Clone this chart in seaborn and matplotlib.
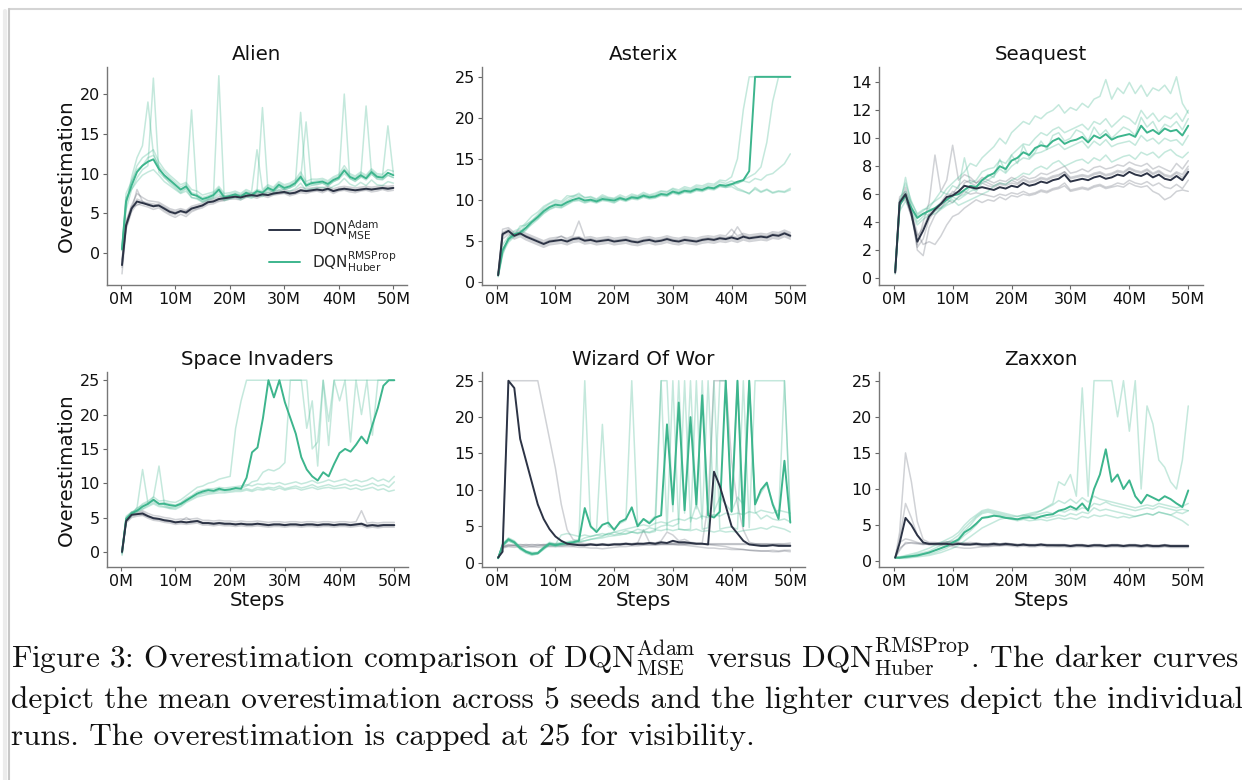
import numpy as np
import pandas as pd
import matplotlib
matplotlib.use("Agg")
import matplotlib.pyplot as plt
import seaborn as sns
from matplotlib.lines import Line2D

# ---------------- data ----------------
GAMES = ["Alien", "Asterix", "Seaquest", "Space Invaders", "Wizard Of Wor", "Zaxxon"]
STEPS_M = [0.25] + list(range(1, 51))
XTICKS = [0, 10, 20, 30, 40, 50]
XTICK_LABELS = ["0M", "10M", "20M", "30M", "40M", "50M"]
YTICKS = {
    "Alien": [0, 5, 10, 15, 20],
    "Asterix": [0, 5, 10, 15, 20, 25],
    "Seaquest": [0, 2, 4, 6, 8, 10, 12, 14],
    "Space Invaders": [0, 5, 10, 15, 20, 25],
    "Wizard Of Wor": [0, 5, 10, 15, 20, 25],
    "Zaxxon": [0, 5, 10, 15, 20, 25],
}
YLIMS = {
    "Alien": (-4.0, 23.4), "Asterix": (-0.4, 26.2), "Seaquest": (-0.5, 15.1),
    "Space Invaders": (-2.2, 26.2), "Wizard Of Wor": (-0.6, 26.2), "Zaxxon": (-0.8, 26.2),
}

# ---- Alien ----
ALIEN_HUBER_MEAN = [0.5, 6.5, 8.5, 10.2, 11.0, 11.5, 11.8, 10.6, 9.8, 9.2, 8.6, 8.0, 8.4, 7.4, 7.2, 6.8, 7.0, 7.3, 8.0, 7.0, 7.2, 7.4, 7.1, 7.6, 7.3, 7.8, 7.6, 8.2, 7.9, 8.6, 8.2, 8.4, 8.8, 9.6, 8.5, 8.8, 8.9, 9.0, 8.7, 9.2, 9.5, 10.4, 9.6, 9.3, 9.8, 9.4, 10.2, 9.6, 9.5, 10.1, 9.8]
ALIEN_HUBER_RUNS = [
    [0.3, 6.0, 9.5, 12.0, 13.5, 19.0, 12.5, 10.8, 9.6, 8.8, 8.2, 7.6, 8.1, 7.0, 6.9, 6.5, 6.8, 7.0, 22.3, 6.8, 7.0, 7.2, 6.9, 7.4, 7.1, 7.6, 7.3, 8.0, 7.7, 8.3, 8.0, 8.2, 8.5, 17.7, 8.3, 8.5, 8.6, 8.8, 8.5, 9.0, 9.3, 20.0, 9.4, 9.0, 9.6, 9.2, 9.9, 9.4, 9.3, 9.8, 9.5],
    [0.6, 7.0, 8.0, 9.5, 10.5, 11.0, 22.0, 10.2, 9.5, 9.0, 8.4, 7.8, 8.2, 18.0, 7.0, 6.6, 6.8, 7.1, 7.7, 6.8, 7.0, 7.2, 7.0, 7.5, 7.1, 7.7, 18.3, 8.0, 7.7, 8.4, 8.0, 8.2, 8.6, 9.3, 16.5, 8.6, 8.7, 8.8, 8.4, 9.0, 9.3, 10.0, 9.4, 9.1, 9.5, 18.5, 10.0, 9.3, 9.2, 9.8, 9.5],
    [0.5, 6.5, 9.0, 11.0, 12.0, 12.5, 13.0, 11.5, 10.5, 9.8, 9.2, 8.6, 8.9, 8.0, 7.8, 7.3, 7.5, 7.7, 8.4, 7.5, 7.6, 7.8, 7.5, 8.0, 7.7, 13.0, 8.0, 8.6, 8.3, 9.0, 8.6, 8.8, 9.2, 10.2, 9.0, 9.3, 9.3, 9.4, 9.1, 9.6, 9.9, 11.0, 10.0, 9.7, 10.2, 9.8, 10.6, 10.0, 9.9, 10.5, 10.3],
    [0.4, 5.5, 8.0, 9.0, 9.8, 10.2, 10.5, 9.8, 9.0, 8.5, 8.0, 7.5, 7.8, 7.0, 6.8, 6.4, 6.6, 6.9, 7.4, 6.6, 6.8, 7.0, 6.7, 7.1, 6.9, 7.3, 7.1, 7.7, 7.4, 8.0, 7.6, 7.8, 8.1, 8.8, 7.9, 8.1, 8.2, 8.3, 8.0, 8.4, 8.7, 9.4, 8.7, 8.4, 8.9, 8.5, 9.2, 8.6, 8.5, 9.0, 8.8],
    [0.7, 7.5, 9.0, 10.5, 11.0, 12.0, 12.3, 11.0, 10.2, 9.5, 8.9, 8.3, 8.7, 7.6, 7.4, 7.0, 7.2, 7.5, 8.2, 7.2, 7.4, 7.6, 7.3, 7.8, 7.5, 8.0, 7.8, 8.4, 8.1, 8.8, 8.4, 8.6, 9.0, 9.8, 8.7, 9.0, 9.1, 9.2, 8.9, 9.4, 9.7, 10.6, 9.8, 9.5, 10.0, 9.6, 10.4, 9.8, 9.7, 16.0, 10.0],
]
ALIEN_ADAM_MEAN = [-1.5, 3.5, 5.6, 6.5, 6.3, 6.1, 5.9, 6.0, 5.6, 5.2, 5.0, 5.3, 5.1, 5.6, 5.8, 6.0, 6.4, 6.5, 6.8, 6.9, 7.0, 7.1, 7.0, 7.2, 7.3, 7.2, 7.4, 7.3, 7.5, 7.6, 7.7, 7.5, 7.6, 7.9, 7.8, 7.9, 8.0, 7.9, 8.1, 7.8, 8.0, 8.1, 8.0, 7.9, 8.0, 8.1, 8.0, 8.1, 8.2, 8.1, 8.2]
ALIEN_ADAM_RUNS = [
    [-2.6, 3.0, 5.2, 6.2, 6.0, 5.8, 5.5, 5.7, 5.2, 4.8, 4.5, 4.9, 4.6, 5.2, 5.5, 5.7, 6.1, 6.2, 6.5, 6.6, 6.8, 6.8, 6.7, 7.0, 7.1, 6.9, 7.2, 7.0, 7.3, 7.4, 7.5, 7.2, 7.4, 7.6, 7.5, 7.7, 7.8, 7.6, 7.9, 7.5, 7.8, 7.9, 7.7, 7.6, 7.8, 7.9, 7.7, 7.8, 8.0, 7.8, 7.9],
    [-1.0, 4.0, 6.0, 7.5, 7.0, 6.6, 6.5, 6.4, 6.0, 5.6, 5.4, 5.6, 5.4, 5.9, 6.1, 6.3, 6.7, 6.8, 7.1, 7.2, 7.2, 7.4, 7.3, 7.5, 7.6, 7.5, 7.7, 7.6, 7.8, 7.9, 8.0, 7.8, 7.9, 8.3, 8.1, 8.2, 8.3, 8.2, 8.4, 8.1, 8.3, 8.4, 8.3, 8.2, 8.3, 8.4, 8.3, 8.4, 8.5, 8.4, 8.5],
    [-1.8, 3.2, 5.4, 8.0, 6.5, 6.0, 5.8, 5.9, 5.4, 5.0, 4.8, 5.2, 4.9, 5.4, 5.6, 5.9, 6.3, 6.4, 6.6, 6.7, 6.9, 7.0, 6.9, 7.1, 7.2, 7.1, 7.3, 7.2, 7.4, 7.5, 7.6, 7.4, 7.5, 7.8, 7.7, 7.8, 7.9, 7.8, 8.0, 7.7, 7.9, 8.0, 7.9, 7.8, 7.9, 8.0, 7.9, 8.0, 8.1, 8.0, 8.1],
    [-0.8, 3.8, 5.9, 6.0, 6.4, 6.2, 6.0, 6.2, 5.8, 5.4, 5.2, 5.4, 5.3, 5.7, 5.9, 6.1, 6.5, 6.6, 6.9, 7.0, 7.1, 7.2, 7.1, 7.3, 7.4, 7.3, 7.5, 7.4, 7.6, 7.7, 7.8, 7.6, 7.7, 8.0, 7.9, 8.0, 8.1, 8.0, 8.2, 7.9, 8.1, 8.2, 8.1, 8.0, 8.1, 8.2, 8.1, 8.2, 8.3, 8.2, 8.3],
    [-1.4, 3.5, 5.6, 6.8, 6.5, 6.3, 6.2, 6.0, 5.7, 5.3, 5.1, 5.2, 5.2, 5.6, 5.8, 6.0, 6.4, 6.5, 6.8, 6.9, 7.0, 7.1, 7.0, 7.2, 7.3, 7.2, 7.4, 7.3, 7.5, 7.6, 7.6, 7.5, 7.6, 7.9, 7.8, 7.9, 8.0, 7.9, 8.1, 7.8, 8.0, 8.1, 8.0, 7.9, 8.0, 8.1, 8.0, 8.1, 8.2, 8.1, 8.2],
]

# ---- Asterix ----
ASTERIX_HUBER_MEAN = [0.8, 3.8, 5.2, 5.8, 6.0, 6.6, 7.3, 7.9, 8.6, 9.1, 9.4, 9.3, 9.7, 10.0, 10.2, 9.9, 10.0, 9.8, 10.1, 10.0, 9.9, 10.2, 10.0, 10.3, 10.2, 10.5, 10.3, 10.4, 10.7, 10.6, 11.0, 10.8, 11.1, 11.0, 11.3, 11.2, 11.5, 11.4, 11.8, 11.7, 11.9, 12.2, 12.4, 13.5, 25.0, 25.0, 25.0, 25.0, 25.0, 25.0, 25.0]
ASTERIX_HUBER_RUNS = [
    [0.9, 4.5, 5.5, 6.2, 6.5, 7.2, 8.0, 8.5, 9.2, 9.6, 10.0, 9.8, 10.5, 10.4, 10.8, 10.2, 10.4, 10.1, 10.6, 10.3, 10.2, 10.6, 10.3, 10.7, 10.5, 10.9, 10.6, 10.8, 11.1, 11.0, 11.4, 11.2, 11.6, 11.4, 11.8, 11.7, 12.0, 11.9, 12.4, 12.3, 12.8, 15.0, 21.0, 25.0, 25.0, 25.0, 25.0, 25.0, 25.0, 25.0, 25.0],
    [0.7, 3.5, 4.8, 5.5, 5.8, 6.4, 7.0, 7.6, 8.3, 8.8, 9.1, 9.0, 9.4, 9.8, 9.9, 9.6, 9.8, 9.6, 9.9, 9.8, 9.6, 10.0, 9.8, 10.1, 10.0, 10.3, 10.1, 10.2, 10.5, 10.4, 10.8, 10.6, 10.9, 10.8, 11.1, 11.0, 11.3, 11.2, 11.6, 11.5, 11.8, 12.0, 12.4, 12.8, 13.2, 14.0, 17.0, 22.0, 25.0, 25.0, 25.0],
    [0.8, 4.0, 5.0, 5.6, 6.8, 6.9, 7.5, 8.2, 9.0, 9.5, 9.8, 9.6, 10.2, 10.5, 10.6, 10.3, 10.3, 10.0, 10.4, 10.2, 10.1, 10.4, 10.1, 10.5, 10.4, 10.7, 10.5, 10.6, 11.0, 10.9, 11.3, 11.0, 11.4, 11.2, 11.6, 11.5, 11.8, 11.7, 12.2, 12.0, 12.3, 12.0, 12.3, 12.1, 12.6, 12.4, 13.0, 13.2, 13.8, 14.4, 15.6],
    [0.6, 3.2, 5.4, 5.9, 5.7, 6.3, 7.2, 7.7, 8.4, 8.9, 9.2, 9.1, 9.5, 9.9, 10.0, 9.7, 9.9, 9.7, 10.0, 9.9, 9.7, 10.1, 9.9, 10.2, 10.1, 10.4, 10.2, 10.3, 10.6, 10.5, 10.9, 10.7, 11.0, 10.9, 11.2, 11.1, 11.4, 11.3, 11.7, 11.5, 11.6, 11.2, 11.0, 10.8, 11.3, 10.9, 11.2, 10.8, 11.0, 10.9, 11.2],
    [0.9, 3.9, 5.1, 5.7, 6.1, 7.0, 7.4, 8.0, 8.8, 9.2, 9.6, 9.4, 9.9, 10.3, 10.4, 10.0, 10.1, 9.9, 10.3, 10.1, 10.0, 10.3, 10.0, 10.4, 10.3, 10.6, 10.4, 10.5, 10.8, 10.7, 11.1, 10.9, 11.2, 11.1, 11.4, 11.3, 11.6, 11.5, 11.9, 11.8, 12.0, 11.4, 11.1, 10.7, 11.5, 11.0, 11.3, 10.9, 11.1, 11.0, 11.4],
]
ASTERIX_ADAM_MEAN = [0.8, 5.8, 6.2, 5.6, 5.9, 5.5, 5.2, 4.9, 4.6, 4.9, 5.0, 5.1, 4.9, 5.2, 5.3, 5.0, 5.1, 4.9, 5.0, 5.1, 4.9, 5.0, 5.1, 4.9, 4.8, 5.0, 5.1, 4.9, 5.0, 5.2, 5.0, 4.9, 5.1, 5.0, 4.9, 5.1, 5.2, 5.1, 5.3, 5.2, 5.4, 5.2, 5.5, 5.3, 5.4, 5.5, 5.4, 5.7, 5.6, 5.9, 5.6]
ASTERIX_ADAM_RUNS = [
    [0.9, 6.4, 6.6, 6.0, 6.3, 5.9, 5.6, 5.3, 5.0, 5.3, 5.4, 5.5, 5.3, 5.6, 7.4, 5.4, 5.5, 5.3, 5.4, 5.5, 5.3, 5.4, 5.5, 5.3, 5.2, 5.4, 5.5, 5.3, 5.4, 5.6, 5.4, 5.3, 5.5, 5.4, 5.3, 5.5, 5.6, 5.5, 5.7, 5.6, 6.4, 5.6, 5.9, 5.7, 5.8, 5.9, 5.8, 6.1, 6.0, 6.3, 6.0],
    [0.7, 5.2, 5.8, 5.2, 5.5, 5.1, 4.8, 4.5, 4.2, 4.5, 4.6, 4.7, 4.5, 4.8, 4.9, 4.6, 4.7, 4.5, 4.6, 4.7, 4.5, 4.6, 4.7, 4.5, 4.4, 4.6, 4.7, 4.5, 4.6, 4.8, 4.6, 4.5, 4.7, 4.6, 4.5, 4.7, 4.8, 4.7, 4.9, 4.8, 5.0, 4.8, 5.1, 4.9, 5.0, 5.1, 5.0, 5.3, 5.2, 5.5, 5.2],
    [0.8, 6.0, 6.4, 5.8, 6.1, 5.7, 5.4, 5.1, 4.8, 5.1, 5.2, 5.6, 5.1, 5.4, 5.5, 5.2, 5.3, 5.1, 5.2, 5.3, 5.1, 5.2, 5.3, 5.1, 5.0, 5.2, 5.3, 5.1, 5.2, 5.4, 5.2, 5.1, 5.3, 5.2, 5.1, 5.3, 5.4, 5.3, 5.5, 5.4, 5.6, 5.4, 5.7, 5.5, 5.6, 5.7, 5.6, 5.9, 5.8, 6.1, 5.8],
    [0.8, 5.6, 6.0, 5.4, 5.7, 5.3, 5.0, 4.7, 4.4, 4.7, 4.8, 4.9, 4.7, 5.0, 5.1, 4.8, 4.9, 4.7, 4.8, 4.9, 4.7, 4.8, 4.9, 4.7, 4.6, 4.8, 4.9, 4.7, 4.8, 5.0, 4.8, 4.7, 4.9, 4.8, 4.7, 4.9, 5.0, 4.9, 5.1, 5.0, 5.2, 5.0, 5.3, 5.1, 5.2, 5.3, 5.2, 5.5, 5.4, 5.7, 5.4],
    [0.9, 5.9, 6.2, 5.7, 5.9, 5.6, 5.3, 5.0, 4.7, 5.0, 5.1, 5.2, 5.0, 5.3, 5.4, 5.1, 5.2, 5.0, 5.1, 5.2, 5.0, 5.1, 5.2, 5.0, 4.9, 5.1, 5.2, 5.0, 5.1, 5.3, 5.1, 5.0, 5.2, 5.1, 5.0, 5.2, 5.3, 5.2, 5.4, 5.3, 5.5, 6.7, 5.6, 5.4, 5.5, 5.6, 5.5, 5.8, 5.7, 6.0, 5.7],
]

# ---- Seaquest ----
SEAQUEST_HUBER_MEAN = [0.5, 5.2, 5.9, 5.0, 4.3, 4.6, 4.8, 5.0, 5.3, 5.6, 5.9, 6.0, 6.3, 6.6, 6.5, 7.0, 7.3, 7.5, 8.0, 7.8, 8.4, 8.6, 9.0, 8.8, 9.3, 9.5, 9.4, 9.8, 10.0, 9.6, 9.8, 9.9, 10.1, 9.7, 10.2, 10.0, 10.3, 9.9, 10.1, 10.2, 10.3, 10.1, 10.9, 10.4, 10.6, 10.3, 10.7, 10.5, 10.6, 10.2, 10.9]
SEAQUEST_HUBER_RUNS = [
    [0.3, 5.5, 6.8, 5.5, 4.5, 4.8, 5.2, 5.5, 5.8, 6.4, 6.8, 7.2, 7.6, 8.2, 8.0, 8.6, 9.0, 9.4, 10.0, 9.6, 10.4, 10.8, 11.2, 11.0, 11.6, 11.4, 11.8, 12.0, 12.4, 11.8, 12.2, 12.0, 12.5, 12.2, 12.8, 13.0, 14.2, 12.8, 13.6, 13.2, 14.0, 13.2, 13.8, 13.0, 13.6, 13.4, 13.8, 13.2, 14.4, 12.5, 11.8],
    [0.6, 5.0, 7.2, 5.2, 4.0, 4.4, 4.9, 5.0, 5.0, 5.3, 5.8, 5.6, 5.9, 6.2, 6.4, 7.0, 7.4, 7.2, 8.5, 7.6, 8.8, 8.2, 9.5, 8.6, 9.0, 9.8, 9.2, 10.2, 10.4, 9.8, 10.0, 10.6, 10.4, 9.8, 10.8, 10.2, 10.6, 10.0, 10.4, 10.8, 10.6, 10.2, 11.5, 10.8, 11.2, 10.4, 11.0, 10.8, 11.2, 10.6, 11.4],
    [0.4, 4.8, 5.5, 4.8, 3.8, 4.2, 4.5, 4.6, 4.9, 5.2, 5.4, 5.8, 6.0, 6.5, 6.2, 6.8, 7.0, 7.3, 7.8, 7.5, 8.0, 8.3, 8.6, 8.5, 8.9, 9.0, 9.2, 9.4, 9.6, 9.2, 9.4, 9.6, 9.8, 9.3, 9.8, 9.5, 9.9, 9.4, 9.6, 9.7, 9.8, 9.5, 10.2, 9.8, 10.0, 9.6, 10.0, 9.8, 9.9, 9.5, 10.2],
    [0.5, 5.3, 5.8, 5.0, 4.4, 4.6, 4.5, 4.8, 5.0, 5.4, 5.6, 5.2, 5.4, 5.6, 5.8, 6.0, 6.2, 6.6, 6.8, 6.7, 7.0, 7.2, 7.5, 7.4, 7.8, 8.0, 7.8, 8.2, 8.4, 8.0, 8.2, 8.4, 8.5, 8.2, 8.6, 8.4, 8.8, 8.3, 8.5, 8.7, 8.8, 8.5, 9.0, 8.8, 9.0, 8.6, 9.0, 9.2, 8.8, 8.6, 9.0],
    [0.6, 5.4, 6.2, 5.4, 4.6, 4.9, 5.0, 5.6, 6.2, 6.0, 6.6, 6.4, 8.6, 6.8, 7.0, 7.6, 7.8, 7.9, 8.4, 8.2, 8.8, 9.2, 9.6, 9.5, 10.0, 10.4, 10.2, 10.6, 10.8, 10.4, 10.6, 10.8, 11.0, 10.6, 11.2, 11.0, 11.4, 10.8, 11.2, 11.6, 11.4, 11.0, 12.0, 11.4, 11.8, 11.2, 11.6, 11.4, 11.8, 11.2, 12.0],
]
SEAQUEST_ADAM_MEAN = [0.4, 5.4, 6.0, 4.6, 2.6, 3.4, 4.4, 4.9, 5.3, 5.8, 5.9, 6.2, 6.6, 6.5, 6.4, 6.5, 6.4, 6.3, 6.5, 6.4, 6.6, 6.5, 6.8, 6.6, 6.7, 6.9, 6.8, 7.0, 7.1, 7.4, 6.9, 7.0, 7.1, 7.0, 7.2, 7.3, 7.1, 7.2, 7.4, 7.3, 7.6, 7.4, 7.3, 7.5, 7.2, 7.4, 7.1, 7.0, 7.3, 7.0, 7.6]
SEAQUEST_ADAM_RUNS = [
    [0.3, 5.0, 6.5, 5.0, 2.0, 1.6, 3.6, 4.5, 5.0, 5.6, 6.2, 6.0, 6.8, 7.0, 6.8, 7.2, 7.0, 6.8, 7.0, 6.9, 7.2, 7.0, 7.3, 7.1, 7.2, 7.5, 7.4, 7.6, 7.8, 8.0, 7.5, 7.6, 7.8, 7.6, 7.9, 8.0, 7.8, 7.9, 8.1, 8.0, 8.3, 8.1, 8.0, 8.2, 7.8, 8.0, 7.8, 7.6, 8.2, 7.8, 8.4],
    [0.5, 5.8, 6.2, 4.8, 3.2, 2.4, 2.6, 2.4, 3.0, 3.8, 4.4, 4.6, 5.0, 5.3, 5.6, 5.4, 5.6, 5.5, 5.8, 5.6, 5.9, 5.8, 6.0, 5.9, 6.0, 6.2, 6.1, 6.3, 6.4, 6.6, 6.2, 6.3, 6.4, 6.3, 6.5, 6.6, 6.4, 6.5, 6.6, 6.5, 6.8, 6.6, 6.5, 6.6, 6.2, 6.0, 5.6, 5.8, 6.2, 6.3, 6.2],
    [0.4, 5.2, 5.8, 4.4, 2.4, 4.0, 5.4, 8.8, 6.2, 7.0, 9.5, 7.0, 7.4, 7.2, 6.8, 7.0, 6.8, 6.6, 6.8, 6.7, 7.0, 6.8, 7.1, 6.9, 7.0, 7.2, 7.1, 7.3, 7.4, 7.6, 7.2, 7.3, 7.4, 7.3, 7.5, 7.6, 7.4, 7.5, 7.7, 7.6, 7.9, 7.7, 7.6, 7.8, 7.5, 7.7, 7.4, 7.3, 7.6, 7.4, 8.0],
    [0.5, 5.6, 6.0, 4.6, 2.2, 2.8, 4.2, 4.8, 5.2, 5.6, 5.4, 5.8, 6.2, 6.0, 6.1, 6.0, 5.9, 5.8, 6.0, 5.9, 6.1, 6.0, 6.2, 6.0, 6.1, 6.3, 6.2, 6.4, 6.5, 6.8, 6.3, 6.4, 6.5, 6.4, 6.6, 6.7, 6.5, 6.6, 6.8, 6.7, 7.0, 6.8, 6.7, 6.9, 6.6, 6.8, 6.5, 6.4, 6.7, 6.4, 7.0],
    [0.4, 5.4, 5.6, 4.4, 3.0, 3.6, 4.6, 5.0, 5.4, 6.0, 6.0, 6.6, 7.0, 6.8, 6.6, 6.8, 6.6, 6.5, 6.7, 6.6, 6.8, 6.7, 7.0, 6.8, 6.9, 7.1, 7.0, 7.2, 7.3, 7.6, 7.1, 7.2, 7.3, 7.2, 7.4, 7.5, 7.3, 7.4, 7.6, 7.5, 7.8, 7.6, 7.5, 7.7, 7.4, 7.6, 7.3, 7.2, 7.5, 7.2, 7.8],
]

# ---- Space Invaders ----
SPACE_HUBER_MEAN = [0.0, 4.8, 5.6, 6.0, 6.6, 7.0, 7.6, 7.0, 7.0, 6.8, 6.7, 7.0, 7.5, 8.0, 8.5, 8.8, 9.0, 8.9, 9.2, 9.0, 9.1, 9.3, 9.2, 10.8, 14.5, 15.2, 19.5, 25.0, 22.5, 25.0, 21.8, 19.5, 17.2, 13.8, 12.0, 11.0, 10.4, 11.6, 11.0, 12.8, 14.4, 15.0, 14.6, 15.6, 16.8, 15.8, 18.5, 21.0, 24.2, 25.0, 25.0]
SPACE_HUBER_RUNS = [
    [0.0, 5.0, 5.8, 6.2, 7.0, 7.4, 8.0, 7.4, 7.5, 7.3, 7.2, 7.6, 8.2, 8.8, 9.4, 9.6, 10.0, 10.2, 10.6, 10.8, 11.0, 18.0, 22.0, 25.0, 25.0, 25.0, 25.0, 25.0, 25.0, 25.0, 25.0, 25.0, 25.0, 25.0, 18.0, 22.0, 12.5, 25.0, 19.0, 25.0, 25.0, 25.0, 25.0, 25.0, 25.0, 25.0, 25.0, 25.0, 25.0, 25.0, 25.0],
    [-0.5, 4.5, 5.2, 6.5, 12.0, 7.0, 8.0, 12.5, 6.8, 6.5, 6.6, 7.0, 7.6, 8.0, 8.4, 8.6, 8.8, 8.8, 9.0, 9.0, 9.1, 9.2, 9.3, 9.6, 10.2, 10.4, 11.6, 12.0, 11.8, 12.2, 13.0, 25.0, 25.0, 25.0, 25.0, 15.0, 16.0, 25.0, 15.5, 25.0, 22.0, 25.0, 16.0, 25.0, 20.0, 25.0, 17.0, 25.0, 25.0, 25.0, 25.0],
    [0.2, 5.2, 5.8, 6.0, 6.3, 6.8, 7.2, 6.8, 6.6, 6.4, 6.4, 6.8, 7.4, 7.8, 8.2, 8.5, 8.6, 8.7, 8.9, 8.8, 8.9, 9.0, 9.0, 9.2, 9.0, 9.4, 9.2, 9.4, 9.3, 9.6, 9.2, 9.4, 9.6, 9.3, 9.5, 9.8, 9.4, 9.6, 9.8, 9.5, 9.7, 9.9, 9.6, 9.8, 9.5, 9.7, 10.0, 9.6, 9.8, 9.4, 10.2],
    [-0.3, 4.6, 5.6, 6.4, 6.8, 7.2, 7.4, 7.0, 7.2, 7.0, 6.8, 7.2, 7.8, 8.2, 8.8, 9.0, 9.2, 9.2, 9.4, 9.3, 9.4, 9.5, 9.6, 9.8, 9.6, 9.9, 9.8, 10.0, 9.9, 10.1, 9.8, 10.0, 10.2, 9.9, 10.1, 10.4, 10.0, 10.2, 10.5, 10.2, 10.4, 10.6, 10.2, 10.5, 10.2, 10.4, 10.8, 10.3, 10.6, 10.2, 11.0],
    [0.1, 4.9, 5.5, 5.8, 6.2, 6.6, 7.0, 6.6, 6.5, 6.3, 6.2, 6.6, 7.2, 7.6, 8.0, 8.2, 8.4, 8.5, 8.6, 8.6, 8.7, 8.8, 8.8, 9.0, 8.8, 9.1, 9.0, 9.2, 9.0, 9.3, 9.0, 9.2, 9.3, 9.0, 9.2, 9.4, 9.1, 9.3, 9.4, 9.2, 9.3, 9.4, 9.1, 9.3, 9.0, 9.2, 9.4, 9.0, 9.2, 8.8, 9.0],
]
SPACE_ADAM_MEAN = [0.0, 4.5, 5.4, 5.5, 5.6, 5.2, 4.9, 4.8, 4.6, 4.5, 4.3, 4.4, 4.3, 4.4, 4.5, 4.2, 4.2, 4.1, 4.2, 4.1, 4.1, 4.0, 4.1, 4.0, 4.0, 4.1, 4.0, 3.9, 4.0, 4.0, 3.9, 4.0, 4.0, 3.9, 4.0, 4.0, 3.9, 4.0, 4.0, 3.9, 4.0, 4.0, 3.9, 4.0, 4.1, 3.8, 3.9, 3.8, 3.9, 3.9, 3.9]
SPACE_ADAM_RUNS = [
    [0.1, 4.8, 5.8, 5.8, 6.0, 5.6, 5.3, 5.2, 5.0, 4.9, 4.7, 4.8, 4.7, 4.8, 4.9, 4.6, 4.6, 4.5, 4.6, 4.5, 4.5, 4.4, 4.5, 4.4, 4.4, 4.5, 4.4, 4.3, 4.4, 4.4, 4.3, 4.4, 4.4, 4.3, 4.4, 4.4, 4.3, 4.4, 4.4, 4.3, 4.4, 4.4, 4.3, 4.4, 6.0, 4.2, 4.3, 4.2, 4.3, 4.3, 4.3],
    [-0.2, 4.2, 5.0, 5.2, 5.3, 4.9, 4.6, 4.5, 4.3, 4.2, 4.0, 4.1, 4.0, 4.1, 4.2, 3.9, 3.9, 3.8, 3.9, 3.8, 3.8, 3.7, 3.8, 3.7, 3.7, 3.8, 3.7, 3.6, 3.7, 3.7, 3.6, 3.7, 3.7, 3.6, 3.7, 3.7, 3.6, 3.7, 3.7, 3.6, 3.7, 3.7, 3.6, 3.7, 3.8, 3.5, 3.6, 3.5, 3.6, 3.6, 3.6],
    [0.0, 4.6, 5.5, 5.6, 5.8, 5.3, 5.0, 4.9, 4.7, 4.6, 4.4, 4.5, 5.0, 4.5, 4.6, 4.3, 4.3, 4.2, 4.3, 4.2, 4.2, 4.1, 4.2, 4.1, 4.1, 4.2, 4.1, 4.0, 4.1, 4.1, 4.0, 4.1, 4.1, 4.0, 4.1, 4.1, 4.0, 4.1, 4.1, 4.0, 4.1, 4.1, 4.0, 4.1, 4.2, 3.9, 4.0, 3.9, 4.0, 4.0, 4.0],
    [-0.1, 4.4, 5.2, 5.4, 5.5, 5.1, 4.8, 4.7, 4.5, 4.4, 4.2, 4.3, 4.2, 4.3, 4.4, 4.1, 4.1, 4.0, 4.1, 4.0, 4.0, 3.9, 4.0, 3.9, 3.9, 4.0, 3.9, 3.8, 3.9, 3.9, 3.8, 3.9, 3.9, 3.8, 3.9, 3.9, 3.8, 3.9, 3.9, 3.8, 3.9, 3.9, 3.8, 3.9, 4.0, 3.7, 3.8, 3.7, 3.8, 3.8, 3.8],
    [0.1, 4.5, 5.6, 5.5, 5.4, 5.2, 4.9, 4.8, 4.6, 4.5, 4.3, 4.4, 4.3, 4.4, 4.5, 4.2, 4.2, 4.1, 4.2, 4.1, 4.1, 4.0, 4.1, 4.0, 4.0, 4.1, 4.0, 3.9, 4.0, 4.0, 3.9, 4.0, 4.0, 3.9, 4.0, 4.0, 3.9, 4.0, 4.0, 3.9, 4.0, 4.0, 3.9, 4.0, 4.1, 3.8, 3.9, 3.8, 3.9, 3.9, 3.9],
]

# ---- Wizard Of Wor ----
WIZARD_HUBER_MEAN = [0.6, 2.4, 3.2, 2.8, 2.0, 1.5, 1.2, 1.3, 2.0, 2.6, 2.4, 2.6, 2.7, 2.8, 3.0, 7.5, 5.0, 4.2, 5.2, 5.5, 4.5, 5.6, 6.0, 7.6, 5.0, 6.0, 5.4, 6.2, 6.5, 19.0, 8.0, 22.0, 7.2, 20.0, 8.0, 23.0, 6.5, 6.2, 7.0, 25.0, 7.0, 25.0, 5.0, 25.0, 8.0, 10.0, 11.0, 8.0, 6.0, 14.0, 5.5]
WIZARD_HUBER_RUNS = [
    [0.6, 2.6, 3.4, 3.0, 2.2, 1.6, 1.4, 1.4, 2.2, 2.8, 2.6, 2.8, 2.9, 3.0, 3.2, 25.0, 4.8, 4.5, 19.0, 5.0, 4.6, 5.4, 5.8, 25.0, 5.2, 6.0, 5.6, 6.4, 25.0, 25.0, 7.0, 25.0, 6.8, 25.0, 7.4, 25.0, 6.8, 6.4, 25.0, 25.0, 7.2, 25.0, 6.0, 25.0, 8.0, 9.6, 10.8, 8.2, 6.4, 25.0, 6.2],
    [0.6, 2.3, 3.0, 2.6, 1.8, 1.3, 1.0, 1.2, 1.8, 2.4, 2.2, 2.4, 2.5, 2.6, 2.8, 3.0, 3.2, 3.4, 3.6, 4.0, 4.2, 4.4, 4.6, 4.8, 5.0, 5.2, 5.0, 5.4, 5.6, 5.4, 5.8, 6.0, 5.8, 6.2, 6.0, 6.4, 6.2, 6.6, 6.4, 6.8, 6.6, 6.8, 6.6, 7.0, 6.8, 7.2, 7.0, 6.8, 7.2, 7.0, 6.8],
    [0.6, 2.5, 3.3, 2.9, 2.1, 1.6, 1.3, 1.4, 2.1, 2.7, 2.5, 3.8, 4.0, 3.8, 3.6, 3.8, 3.6, 3.8, 3.7, 4.0, 3.8, 4.0, 3.9, 4.2, 4.0, 4.2, 4.1, 4.3, 25.0, 4.4, 25.0, 4.6, 4.5, 4.6, 25.0, 4.6, 4.8, 25.0, 4.6, 4.8, 4.9, 4.6, 25.0, 4.8, 25.0, 25.0, 25.0, 25.0, 25.0, 25.0, 6.0],
    [0.6, 2.2, 3.0, 2.7, 1.9, 1.4, 1.1, 1.2, 1.9, 2.5, 2.3, 2.5, 2.6, 2.7, 2.9, 3.0, 3.2, 3.3, 3.4, 3.6, 3.7, 3.8, 4.0, 4.2, 4.1, 4.3, 4.2, 4.5, 4.4, 4.6, 4.4, 4.6, 4.5, 4.4, 4.6, 4.3, 4.4, 4.2, 4.4, 4.2, 4.3, 4.2, 4.4, 4.5, 4.6, 4.8, 4.6, 5.0, 4.8, 4.6, 4.2],
    [0.6, 2.5, 3.2, 2.8, 2.0, 1.5, 1.2, 1.3, 2.0, 2.6, 2.4, 2.6, 2.7, 2.8, 3.0, 3.4, 3.6, 3.8, 4.0, 3.8, 4.2, 4.0, 4.4, 4.2, 4.6, 4.4, 4.8, 4.6, 5.0, 5.2, 5.0, 5.4, 25.0, 5.6, 8.0, 6.0, 25.0, 7.0, 9.0, 8.0, 7.0, 9.0, 8.0, 25.0, 7.0, 6.0, 6.5, 6.0, 5.8, 6.0, 5.6],
]
WIZARD_ADAM_MEAN = [0.7, 1.5, 25.0, 24.0, 17.0, 14.0, 11.0, 8.0, 6.0, 4.6, 3.6, 3.0, 2.6, 2.5, 2.4, 2.4, 2.5, 2.4, 2.5, 2.4, 2.5, 2.5, 2.6, 2.5, 2.6, 2.6, 2.7, 2.6, 2.8, 2.7, 3.0, 2.8, 2.8, 2.7, 2.6, 2.6, 2.5, 12.5, 10.5, 7.8, 5.0, 4.0, 3.0, 2.5, 2.4, 2.3, 2.3, 2.4, 2.3, 2.3, 2.3]
WIZARD_ADAM_RUNS = [
    [0.7, 2.0, 25.0, 25.0, 25.0, 25.0, 25.0, 25.0, 21.0, 17.0, 13.0, 8.0, 4.5, 3.2, 2.8, 2.6, 2.6, 2.5, 2.6, 2.5, 2.6, 2.6, 2.7, 2.6, 2.7, 4.5, 2.8, 2.7, 3.0, 4.2, 3.8, 3.0, 3.2, 2.8, 2.7, 2.6, 2.5, 2.4, 2.3, 2.2, 2.0, 1.9, 1.8, 1.7, 1.6, 1.6, 1.6, 1.5, 1.5, 1.6, 1.5],
    [0.7, 2.2, 2.4, 2.3, 2.2, 2.3, 2.2, 2.3, 2.4, 2.3, 2.4, 2.3, 2.4, 2.3, 2.4, 2.3, 2.4, 2.4, 2.4, 2.4, 2.5, 2.4, 2.5, 2.5, 2.5, 2.5, 2.6, 2.5, 2.6, 2.6, 2.6, 2.6, 2.6, 2.6, 2.6, 2.6, 2.6, 2.6, 2.6, 2.6, 2.6, 2.6, 2.6, 2.6, 2.6, 2.6, 2.6, 2.6, 2.6, 2.6, 2.7],
    [0.7, 2.0, 2.2, 2.1, 2.2, 2.1, 2.2, 2.1, 2.2, 2.2, 2.2, 2.2, 2.2, 2.2, 2.1, 2.1, 2.0, 2.0, 1.9, 2.0, 2.1, 2.2, 2.2, 2.3, 2.3, 2.4, 2.4, 2.4, 2.5, 2.5, 2.5, 2.4, 2.4, 2.3, 2.2, 2.1, 2.0, 2.0, 1.9, 1.9, 1.8, 1.8, 1.8, 1.7, 1.7, 1.6, 1.6, 1.7, 1.6, 1.7, 1.7],
    [0.7, 2.1, 2.3, 2.4, 2.5, 2.4, 2.5, 2.4, 2.5, 2.5, 2.6, 2.5, 2.6, 2.5, 2.6, 2.5, 2.6, 2.5, 2.6, 2.5, 2.6, 2.6, 2.6, 2.6, 2.7, 2.6, 2.7, 2.6, 2.7, 2.7, 2.7, 2.7, 2.6, 2.7, 2.6, 2.7, 8.0, 25.0, 25.0, 25.0, 14.0, 8.0, 4.5, 2.8, 2.6, 2.5, 2.5, 2.4, 2.5, 2.4, 2.4],
    [0.7, 2.2, 2.5, 2.4, 2.4, 2.5, 2.4, 2.5, 2.4, 2.5, 2.5, 2.5, 2.4, 2.5, 2.5, 2.4, 2.5, 2.5, 2.4, 2.5, 2.5, 2.5, 2.5, 2.5, 2.5, 2.5, 2.5, 2.5, 2.5, 2.5, 2.5, 2.5, 2.5, 2.5, 2.5, 2.5, 2.5, 2.5, 2.5, 2.5, 2.5, 2.5, 2.5, 2.5, 2.5, 2.5, 2.5, 2.5, 2.5, 2.5, 2.5],
]

# ---- Zaxxon ----
ZAXXON_HUBER_MEAN = [0.5, 0.5, 0.6, 0.7, 0.8, 1.0, 1.2, 1.5, 1.8, 2.1, 2.6, 3.0, 4.0, 4.5, 5.2, 6.0, 6.1, 6.3, 6.2, 6.0, 5.9, 5.8, 6.0, 6.1, 5.9, 6.2, 6.4, 6.5, 7.0, 7.2, 7.6, 7.2, 8.0, 7.0, 10.0, 12.0, 15.5, 11.0, 12.0, 10.0, 11.2, 9.0, 8.0, 9.2, 8.8, 8.4, 9.0, 8.6, 8.0, 7.5, 9.8]
ZAXXON_HUBER_RUNS = [
    [0.5, 0.4, 0.5, 0.6, 0.7, 0.9, 1.0, 1.2, 1.5, 1.8, 2.4, 2.8, 3.6, 4.2, 5.0, 6.0, 6.2, 6.4, 6.2, 6.0, 6.0, 5.8, 6.2, 6.4, 6.6, 7.0, 7.5, 8.0, 11.0, 10.5, 12.0, 9.0, 24.0, 9.0, 25.0, 25.0, 25.0, 25.0, 20.0, 25.0, 18.0, 25.0, 10.0, 21.5, 19.0, 14.0, 13.0, 11.0, 10.0, 14.0, 21.5],
    [0.5, 0.6, 0.8, 1.0, 1.2, 1.5, 1.8, 2.2, 2.6, 3.0, 3.4, 4.0, 5.0, 5.8, 6.4, 7.0, 7.2, 7.0, 6.8, 6.6, 6.4, 6.2, 6.4, 6.3, 6.4, 6.6, 6.8, 6.6, 7.0, 6.8, 7.2, 7.0, 7.4, 7.2, 8.0, 7.8, 8.2, 7.8, 7.6, 7.4, 7.2, 7.0, 7.2, 7.4, 7.2, 7.6, 7.4, 7.2, 7.0, 7.2, 7.0],
    [0.5, 0.5, 0.6, 0.7, 0.8, 1.0, 1.2, 1.5, 1.8, 2.2, 2.6, 3.2, 4.2, 5.0, 6.0, 6.6, 6.8, 6.6, 6.4, 6.2, 6.0, 5.8, 5.9, 6.0, 6.1, 6.2, 6.0, 6.2, 6.4, 6.2, 6.6, 6.4, 6.8, 6.6, 7.4, 7.0, 7.2, 7.0, 6.8, 6.6, 6.4, 6.2, 6.4, 6.6, 6.4, 6.8, 6.6, 6.4, 6.0, 5.6, 5.0],
    [0.5, 0.4, 0.4, 0.5, 0.6, 0.7, 0.8, 1.0, 1.2, 1.5, 1.8, 2.2, 2.8, 3.4, 4.0, 4.6, 5.0, 5.4, 5.8, 6.0, 5.8, 5.6, 5.8, 5.6, 5.7, 5.8, 5.6, 5.8, 6.0, 5.8, 6.0, 5.8, 6.2, 6.0, 6.4, 6.2, 6.4, 6.2, 6.0, 6.2, 6.0, 6.2, 6.4, 6.6, 6.4, 6.8, 6.6, 6.4, 6.8, 6.6, 7.0],
    [0.5, 0.5, 0.7, 0.8, 1.0, 1.2, 1.4, 1.8, 2.2, 2.6, 3.0, 3.6, 4.6, 5.4, 6.2, 6.8, 7.0, 6.8, 6.6, 6.4, 6.2, 6.2, 6.4, 6.6, 6.8, 7.0, 7.4, 7.8, 8.4, 8.0, 8.6, 8.0, 8.8, 8.2, 9.0, 8.6, 8.4, 8.2, 8.0, 7.8, 7.6, 7.4, 7.6, 7.8, 7.6, 8.0, 7.8, 7.6, 7.4, 7.6, 8.0],
]
ZAXXON_ADAM_MEAN = [0.5, 2.5, 6.0, 5.0, 3.6, 2.6, 2.4, 2.4, 2.4, 2.4, 2.3, 2.4, 2.3, 2.3, 2.4, 2.3, 2.3, 2.4, 2.3, 2.4, 2.3, 2.2, 2.3, 2.2, 2.2, 2.3, 2.2, 2.2, 2.2, 2.2, 2.1, 2.2, 2.2, 2.1, 2.2, 2.2, 2.1, 2.2, 2.2, 2.1, 2.2, 2.2, 2.1, 2.2, 2.1, 2.1, 2.2, 2.1, 2.1, 2.1, 2.1]
ZAXXON_ADAM_RUNS = [
    [0.5, 4.0, 15.0, 11.0, 5.5, 3.0, 2.6, 2.6, 2.5, 2.6, 2.5, 2.5, 2.4, 2.4, 2.5, 2.4, 2.4, 2.5, 2.4, 2.5, 2.4, 2.3, 2.4, 2.3, 2.3, 2.4, 2.3, 2.3, 2.3, 2.3, 2.2, 2.3, 2.3, 2.2, 2.3, 2.3, 2.2, 2.3, 2.3, 2.2, 2.3, 2.3, 2.2, 2.3, 2.2, 2.2, 2.3, 2.2, 2.2, 2.2, 2.2],
    [0.5, 3.0, 8.0, 6.0, 3.6, 2.5, 2.3, 2.4, 2.5, 2.6, 2.8, 2.6, 2.5, 2.4, 2.5, 2.4, 2.4, 2.5, 2.4, 2.5, 2.4, 2.3, 2.4, 2.3, 2.3, 2.4, 2.3, 2.3, 2.3, 2.3, 2.2, 2.3, 2.3, 2.2, 2.3, 2.3, 2.2, 2.3, 2.3, 2.2, 2.3, 2.3, 2.2, 2.3, 2.2, 2.2, 2.3, 2.2, 2.2, 2.2, 2.2],
    [0.5, 2.6, 3.1, 2.9, 2.6, 2.4, 2.3, 2.2, 2.2, 2.1, 2.0, 1.9, 1.8, 1.8, 1.9, 2.0, 2.1, 2.2, 2.1, 2.2, 2.1, 2.0, 2.1, 2.0, 2.0, 2.1, 2.0, 2.0, 2.0, 2.0, 1.9, 2.0, 2.0, 1.9, 2.0, 2.0, 1.9, 2.0, 2.0, 1.9, 2.0, 2.0, 1.9, 2.0, 1.9, 1.9, 2.0, 1.9, 1.9, 1.9, 1.9],
    [0.5, 1.5, 2.6, 2.5, 2.4, 2.3, 2.4, 2.5, 2.6, 2.7, 2.6, 2.5, 2.4, 2.3, 2.2, 2.1, 2.0, 2.1, 2.2, 2.3, 2.4, 2.3, 2.2, 2.3, 2.2, 2.3, 2.2, 2.2, 2.1, 2.2, 2.1, 2.2, 2.1, 2.1, 2.2, 2.1, 2.1, 2.1, 2.1, 2.1, 2.1, 2.1, 2.0, 2.1, 2.0, 2.0, 2.1, 2.0, 2.0, 2.0, 2.0],
    [0.5, 1.8, 2.4, 2.6, 2.5, 2.4, 2.5, 2.4, 2.3, 2.4, 2.3, 2.4, 2.5, 2.6, 2.5, 2.4, 2.3, 2.2, 2.3, 2.2, 2.3, 2.2, 2.3, 2.2, 2.2, 2.3, 2.2, 2.2, 2.2, 2.2, 2.1, 2.2, 2.2, 2.1, 2.2, 2.2, 2.1, 2.2, 2.2, 2.1, 2.2, 2.2, 2.1, 2.2, 2.1, 2.1, 2.2, 2.1, 2.1, 2.1, 2.1],
]

PANEL_DATA = {
    "Alien": (ALIEN_ADAM_MEAN, ALIEN_ADAM_RUNS, ALIEN_HUBER_MEAN, ALIEN_HUBER_RUNS),
    "Asterix": (ASTERIX_ADAM_MEAN, ASTERIX_ADAM_RUNS, ASTERIX_HUBER_MEAN, ASTERIX_HUBER_RUNS),
    "Seaquest": (SEAQUEST_ADAM_MEAN, SEAQUEST_ADAM_RUNS, SEAQUEST_HUBER_MEAN, SEAQUEST_HUBER_RUNS),
    "Space Invaders": (SPACE_ADAM_MEAN, SPACE_ADAM_RUNS, SPACE_HUBER_MEAN, SPACE_HUBER_RUNS),
    "Wizard Of Wor": (WIZARD_ADAM_MEAN, WIZARD_ADAM_RUNS, WIZARD_HUBER_MEAN, WIZARD_HUBER_RUNS),
    "Zaxxon": (ZAXXON_ADAM_MEAN, ZAXXON_ADAM_RUNS, ZAXXON_HUBER_MEAN, ZAXXON_HUBER_RUNS),
}

bad = []
for g, (am, ar, hm, hr) in PANEL_DATA.items():
    for nm, arr in [("adam_mean", am), ("huber_mean", hm)] + [(f"adam_run{i}", r) for i, r in enumerate(ar)] + [(f"huber_run{i}", r) for i, r in enumerate(hr)]:
        if len(arr) != len(STEPS_M):
            bad.append(f"{g} {nm}: {len(arr)}")
if bad:
    raise SystemExit("LENGTH MISMATCH: " + "; ".join(bad))

# ---------------- style ----------------
DARK = "#2c3345"
GREEN = "#3db58d"
sns.set_theme(style="ticks")
plt.rcParams["font.family"] = ["DejaVu Sans"]

W, H = 1242, 780
fig = plt.figure(figsize=(W / 100, H / 100), dpi=100)

# axes boxes in pixels: (left, top, right, bottom)
BOXES = {
    "Alien": (107, 67, 407, 285),
    "Asterix": (482, 67, 805, 285),
    "Seaquest": (879, 67, 1203, 285),
    "Space Invaders": (107, 372, 408, 567),
    "Wizard Of Wor": (482, 372, 805, 567),
    "Zaxxon": (879, 372, 1203, 567),
}

def to_rect(b):
    l, t, r, btm = b
    return [l / W, 1 - btm / H, (r - l) / W, (btm - t) / H]

for gi, game in enumerate(GAMES):
    ax = fig.add_axes(to_rect(BOXES[game]))
    am, ar, hm, hr = PANEL_DATA[game]
    for run in ar:
        sns.lineplot(x=STEPS_M, y=run, ax=ax, color=DARK, alpha=0.22, linewidth=1.1, legend=False)
    for run in hr:
        sns.lineplot(x=STEPS_M, y=run, ax=ax, color=GREEN, alpha=0.30, linewidth=1.1, legend=False)
    sns.lineplot(x=STEPS_M, y=hm, ax=ax, color=GREEN, linewidth=1.4, legend=False)
    sns.lineplot(x=STEPS_M, y=am, ax=ax, color=DARK, linewidth=1.4, legend=False)

    ax.set_xlim(-2.5, 52.5)
    ax.set_ylim(*YLIMS[game])
    ax.set_xticks(XTICKS)
    ax.set_xticklabels(XTICK_LABELS)
    ax.set_yticks(YTICKS[game])
    ax.tick_params(labelsize=11.5, length=3, width=0.8, color="#666666", pad=2, labelcolor="#111111")
    for s in ["left", "bottom"]:
        ax.spines[s].set_color("#777777")
        ax.spines[s].set_linewidth(1.0)
    sns.despine(ax=ax)
    ax.set_title(game, fontsize=14.3, pad=5, color="#111111")
    ax.set_xlabel("Steps" if gi >= 3 else "", fontsize=14.3, labelpad=1.5, color="#111111")
    ax.set_ylabel("Overestimation" if gi % 3 == 0 else "", fontsize=14.3, labelpad=3, color="#111111")

    if game == "Alien":
        handles = [Line2D([0], [0], color=DARK, lw=1.4), Line2D([0], [0], color=GREEN, lw=1.4)]
        labels = [r"DQN$_{\mathrm{MSE}}^{\mathrm{Adam}}$", r"DQN$_{\mathrm{Huber}}^{\mathrm{RMSProp}}$"]
        ax.legend(handles, labels, loc="lower right", frameon=False, fontsize=11,
                  handlelength=2.0, labelspacing=0.5, borderaxespad=0.3)

# page-edge lines of the screenshot
fig.add_artist(Line2D([9 / W, 1.0], [1 - 9 / H, 1 - 9 / H], transform=fig.transFigure, color="#d4d4d4", lw=1.5))
fig.add_artist(Line2D([9 / W, 9 / W], [0.0, 1 - 9 / H], transform=fig.transFigure, color="#c8c8c8", lw=1.5))
fig.add_artist(Line2D([5 / W, 5 / W], [0.0, 1 - 11 / H], transform=fig.transFigure, color="#ececec", lw=3))

# caption
CAP_LINES = [
    r"Figure 3: Overestimation comparison of $\mathrm{DQN}^{\mathrm{Adam}}_{\mathrm{MSE}}$ versus $\mathrm{DQN}^{\mathrm{RMSProp}}_{\mathrm{Huber}}$. The darker curves",
    "depict the mean overestimation across 5 seeds and the lighter curves depict the individual",
    "runs. The overestimation is capped at 25 for visibility.",
]
CAP_Y = [668, 708, 745]
cap_texts = []
for line, y in zip(CAP_LINES, CAP_Y):
    t = fig.text(11 / W, 1 - y / H, line, fontsize=18, family="cmr10", math_fontfamily="cm",
                 ha="left", va="baseline", color="#111111")
    cap_texts.append(t)
r = fig.canvas.get_renderer()
w0 = cap_texts[0].get_window_extent(renderer=r).width
scale = 1229 / w0
for t in cap_texts:
    t.set_fontsize(18 * scale)

fig.savefig("out.png", dpi=100, facecolor="white")
